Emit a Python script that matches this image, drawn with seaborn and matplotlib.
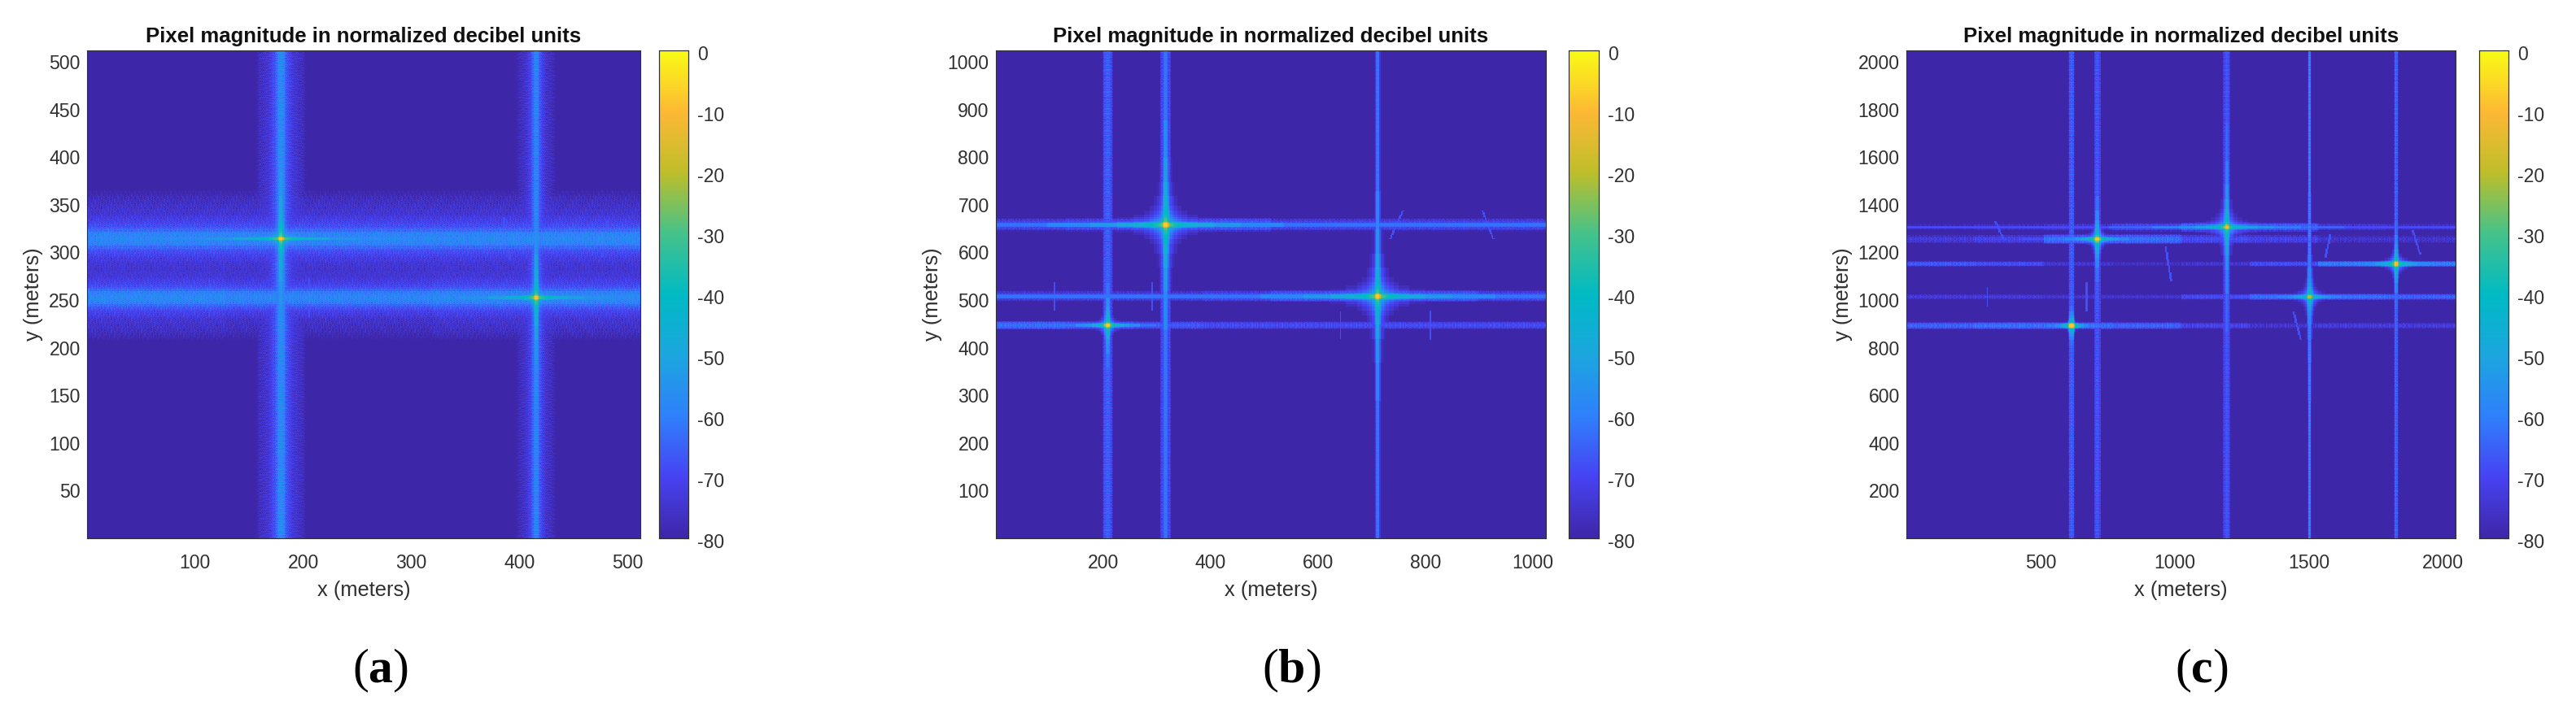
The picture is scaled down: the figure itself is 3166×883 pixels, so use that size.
import numpy as np
import pandas as pd
import seaborn as sns
import matplotlib.pyplot as plt
from matplotlib.colors import LinearSegmentedColormap
from matplotlib.transforms import ScaledTranslation

# wartosci (metry, dB)
extents = [512, 1024, 2048]

vert_x = [[179, 415],
          [207, 315, 710],
          [615, 710, 1192, 1503, 1824]]
vert_width = [[24, 20],
              [9, 11, 4],
              [9, 13, 17, 4, 9]]
vert_level = [[-55, -56],
              [-63, -65, -60],
              [-63, -65, -65, -58, -62]]

horiz_y = [[314, 252],
           [657, 507, 446],
           [1304, 1254, 1150, 1012, 890]]
horiz_width = [[52, 46],
               [14, 12, 10],
               [20, 18, 10, 14, 14]]
# poziom wzdluz linii, 8 odcinkow od lewej do prawej
horiz_level = [[[-55, -55, -55, -55, -55, -55, -55, -55],
                [-55, -55, -56, -56, -56, -55, -55, -55]],
               [[-66, -64, -62, -62, -66, -66, -66, -66],
                [-68, -68, -68, -66, -62, -60, -62, -66],
                [-60, -62, -64, -66, -66, -66, -66, -66]],
               [[-74, -72, -70, -66, -60, -62, -70, -72],
                [-70, -68, -60, -60, -66, -68, -72, -72],
                [-64, -66, -72, -74, -72, -66, -58, -58],
                [-70, -70, -72, -72, -66, -60, -60, -62],
                [-62, -60, -60, -62, -68, -72, -70, -70]]]

peak_x = [[179, 415],
          [315, 710, 207],
          [710, 1192, 1503, 1824, 615]]
peak_y = [[314, 252],
          [657, 507, 446],
          [1254, 1304, 1012, 1150, 890]]
peak_db = [[-5, -7],
           [-6, -6, -7],
           [-8, -9, -20, -8, -7]]
peak_sharp = [[1.0, 1.0],
              [1.0, 1.0, 1.25],
              [1.25, 1.05, 1.0, 1.25, 1.5]]

# krotkie kreski obok linii: x, y, pol dlugosci, przesuniecie
ghost_x = [[113, 205, 388, 479],
           [108, 290, 640, 808, 745, 915],
           [345, 300, 670, 975, 1455, 1570, 1900]]
ghost_y = [[252, 252, 314, 314],
           [507, 507, 446, 446, 657, 657],
           [1290, 1012, 1012, 1150, 890, 1225, 1240]]
ghost_len = [[20, 20, 22, 20],
             [30, 30, 28, 30, 30, 30],
             [40, 40, 60, 70, 60, 50, 50]]
ghost_slant = [[0, 0, -3, 3],
               [0, 0, 0, 0, 12, -10],
               [-16, 0, 0, -10, -14, 10, -14]]

cross_db = [0, -1, -2, -6, -9, -11, -13, -14, -15, -16, -17, -17, -18, -18, -19, -19, -20, -21, -22, -24]
flat_db = [0, -1, 0, -2, -1, -2, -1, -3, -2, -3, -2, -4, -4, -5, -6, -8, -10, -12, -15, -20]
ripple_db = [0, -2, -5, -3, 0, -1, -6, -2, 0, -3, -4, -1, -7, 0, -2, -4, -1, -3, 0, -5, -2, -1, -6]
star_dist = [0, 1, 2, 3, 4, 6, 8, 11, 15, 20, 30, 45, 70, 110]
star_drop = [0, -2, -12, -20, -24, -28, -31, -34, -37, -40, -44, -48, -52, -56]

x_ticks = [[100, 200, 300, 400, 500],
           [200, 400, 600, 800, 1000],
           [500, 1000, 1500, 2000]]
y_ticks = [[50, 100, 150, 200, 250, 300, 350, 400, 450, 500],
           [100, 200, 300, 400, 500, 600, 700, 800, 900, 1000],
           [200, 400, 600, 800, 1000, 1200, 1400, 1600, 1800, 2000]]
cbar_ticks = [0, -10, -20, -30, -40, -50, -60, -70, -80]
captions = ['a', 'b', 'c']

parula_hex = ['#3e26a8', '#4743f3', '#2f80fb', '#1ca6df', '#00bac4',
              '#45c28a', '#bdbe2a', '#fdb834', '#f9fb15']

# polozenie w pikselach (3166x883)
W, H = 3166, 883
ax_left = [107, 1224, 2343]
ax_right = [787, 1900, 3018]
cb_left = [810, 1928, 3047]
cb_right = [846, 1965, 3083]
ax_top, ax_bottom = 62, 662
caption_x = [468, 1587, 2706]
N = 512

sns.set_theme(style='white')
plt.rcParams['font.family'] = ['Liberation Sans', 'DejaVu Sans']
plt.rcParams['mathtext.fontset'] = 'custom'
plt.rcParams['mathtext.bf'] = 'Liberation Serif:bold'
plt.rcParams['mathtext.rm'] = 'Liberation Serif'

parula = LinearSegmentedColormap.from_list('parula', parula_hex, N=256)
GREY = '#303030'


def line_values(perp, along, width, cell, table):
    # przekroj poprzeczny i plamki wzdluz linii
    idx = (perp * cell / width * len(table)).astype(int)
    drop = np.where(idx < len(table), np.array(table)[np.minimum(idx, len(table) - 1)], -200)
    rip = np.array(ripple_db)[(along + 5 * perp.astype(int)) % len(ripple_db)]
    return drop + rip


def build_panel(k):
    extent = extents[k]
    cell = extent / N
    rows, cols = np.mgrid[0:N, 0:N]
    out = np.full((N, N), -80.0)
    table = cross_db if k == 0 else flat_db

    for x0, w, lev in zip(vert_x[k], vert_width[k], vert_level[k]):
        perp = np.floor(np.abs(cols - x0 / cell))
        out = np.maximum(out, lev + line_values(perp, rows, w, cell, table))

    for y0, w, levs in zip(horiz_y[k], horiz_width[k], horiz_level[k]):
        perp = np.floor(np.abs(rows - y0 / cell))
        seg = np.array(levs)[(cols * len(levs)) // N]
        out = np.maximum(out, seg + line_values(perp, cols, w, cell, table))

    for gx, gy, gl, gs in zip(ghost_x[k], ghost_y[k], ghost_len[k], ghost_slant[k]):
        t = (rows - gy / cell) * cell / gl
        cx = (gx + gs * t) / cell
        mask = (np.abs(t) <= 1) & (np.abs(cols - cx) < 1)
        out[mask] = np.maximum(out[mask], -68)

    for px, py, db, sharp in zip(peak_x[k], peak_y[k], peak_db[k], peak_sharp[k]):
        dx = np.abs(cols - px / cell)
        dy = np.abs(rows - py / cell)
        ix = np.searchsorted(star_dist, dx, side='right') - 1
        iy = np.searchsorted(star_dist, dy, side='right') - 1
        star = db + sharp * (np.array(star_drop)[ix] + np.array(star_drop)[iy])
        out = np.maximum(out, star)

    return pd.DataFrame(np.clip(out, -80, 0))


fig = plt.figure(figsize=(W / 100, H / 100), dpi=100)
down = ScaledTranslation(0, -2 / 72, fig.dpi_scale_trans)

for k in range(3):
    ax = fig.add_axes([ax_left[k] / W, 1 - ax_bottom / H,
                       (ax_right[k] - ax_left[k]) / W, (ax_bottom - ax_top) / H])
    cax = fig.add_axes([cb_left[k] / W, 1 - ax_bottom / H,
                        (cb_right[k] - cb_left[k]) / W, (ax_bottom - ax_top) / H])
    sns.heatmap(build_panel(k), ax=ax, cbar_ax=cax, cmap=parula, vmin=-80, vmax=0,
                xticklabels=False, yticklabels=False, rasterized=True,
                cbar_kws={'ticks': cbar_ticks})
    ax.invert_yaxis()

    cell = extents[k] / N
    ax.set_xticks([v / cell for v in x_ticks[k]])
    ax.set_xticklabels([str(v) for v in x_ticks[k]], fontsize=16.6, color=GREY)
    ax.set_yticks([v / cell for v in y_ticks[k]])
    ax.set_yticklabels([str(v) for v in y_ticks[k]], fontsize=16.6, color=GREY)
    ax.tick_params(direction='in', length=6, width=0.8, color=GREY, top=True, right=True,
                   bottom=True, left=True, pad=6)
    ax.tick_params(axis='x', pad=14)
    for s in ax.spines.values():
        s.set_visible(True)
        s.set_linewidth(0.8)
        s.set_color(GREY)
    ax.set_xlabel('x (meters)', fontsize=18.4, color=GREY, labelpad=7)
    ax.set_ylabel('y (meters)', fontsize=18.4, color=GREY, labelpad=5)
    ax.set_title('Pixel magnitude in normalized decibel units', fontsize=18.5,
                 fontweight='bold', color='#111111', pad=7)

    cax.set_yticks(cbar_ticks)
    cax.set_yticklabels([str(v) for v in cbar_ticks], fontsize=16.6, color=GREY)
    cax.tick_params(direction='in', length=4, width=0.8, color=GREY, right=True, left=False, pad=8)
    for lbl in cax.get_yticklabels():
        lbl.set_transform(lbl.get_transform() + down)
    for s in cax.spines.values():
        s.set_visible(True)
        s.set_linewidth(0.8)
        s.set_color(GREY)

    fig.text(caption_x[k] / W, 1 - 825 / H, r'($\mathbf{%s}$)' % captions[k], fontsize=43,
             family='Liberation Serif', ha='center', va='center', color='black')

fig.savefig('out.png', dpi=100)
